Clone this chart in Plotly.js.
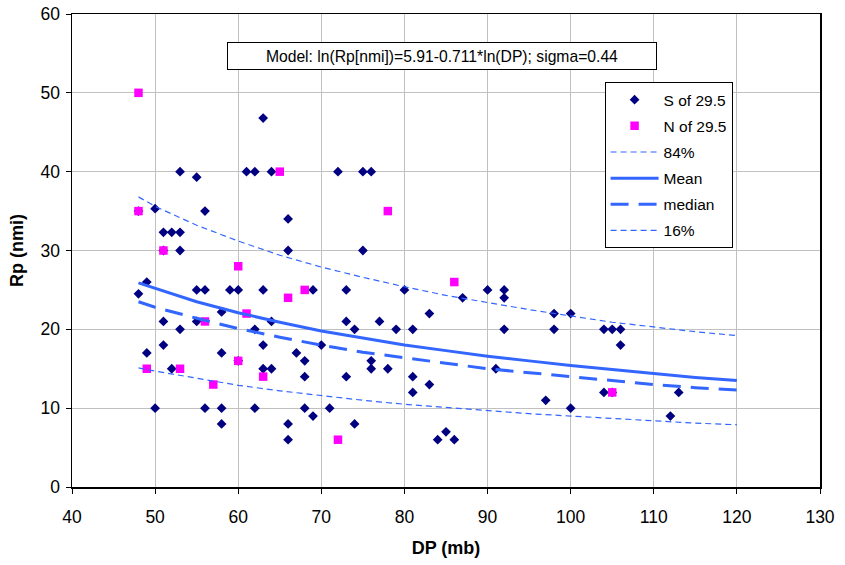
<!DOCTYPE html>
<html>
<head>
<meta charset="utf-8">
<script src="https://cdn.plot.ly/plotly-3.0.1.min.js"></script>
<style>html,body{margin:0;padding:0;background:#fff;}#chart{width:845px;height:565px;}</style>
</head>
<body>
<div id="chart"></div>
<script>
// Scatter data: S of 29.5
var sDP = [48,48,49,49,50,50,51,51,51,51,52,52,53,53,53,53,55,55,55,56,56,56,58,58,58,58,59,60,60,61,62,62,62,63,63,63,63,64,64,64,66,66,66,66,67,
           68,68,68,69,69,70,71,72,73,73,73,74,74,75,75,76,76,76,77,78,79,80,81,81,81,83,83,84,85,86,87,90,91,
           92,92,92,97,98,98,100,100,104,104,105,105,106,106,112,113];
var sRp = [24.5,35,26,17,35.3,10,32.3,30,21,18,32.3,15,40,32.3,30,20,39.3,25,21,35,25,10,22.2,17,10,8,25,25,16,40,40,20,10,46.8,25,18,15,40,21,15,34,30,8,6,17,
           16,14,10,25,9,18,10,40,25,21,14,20,8,40,30,40,16,15,21,15,20,25,20,14,12,22,13,6,7,6,24,25,15,
           25,24,20,11,22,20,22,10,20,12,20,12,20,18,9,12];
// Scatter data: N of 29.5
var nDP = [48,48,49,51,53,56,57,60,60,61,63,65,66,68,72,78,86,105];
var nRp = [50,35,15,30,15,21,13,28,16,22,14,40,24,25,6,35,26,12];
// Model curves
var lineDP   = [48,50,55,60,65,70,75,80,85,90,95,100,105,110,115,120];
var p84Rp    = [36.8,35.6,33.2,31.2,29.4,27.9,26.6,25.4,24.3,23.4,22.5,21.7,20.9,20.3,19.7,19.2];
var meanRp   = [25.9,25.2,23.5,22.1,20.9,19.8,18.9,18.0,17.3,16.6,16.0,15.4,14.9,14.4,13.9,13.5];
var medianRp = [23.5,22.8,21.4,20.1,19.0,18.0,17.1,16.4,15.7,15.0,14.5,14.0,13.5,13.0,12.6,12.3];
var p16Rp    = [15.1,14.7,13.8,12.9,12.2,11.6,11.0,10.5,10.1,9.7,9.3,9.0,8.7,8.4,8.1,7.9];
var xTicks = [40,50,60,70,80,90,100,110,120,130];
var yTicks = [0,10,20,30,40,50,60];

var FONT = 'Liberation Sans, Arial, sans-serif';
var LINEC = '#3366FF';

var traces = [
  {x:sDP, y:sRp, type:'scatter', mode:'markers', name:'S of 29.5', legendgroup:'a',
   marker:{symbol:'diamond', size:7.5, color:'#000080'}},
  {x:nDP, y:nRp, type:'scatter', mode:'markers', name:'N of 29.5', legendgroup:'b',
   marker:{symbol:'square', size:8.5, color:'#FF00FF'}},
  {x:lineDP, y:p84Rp, type:'scatter', mode:'lines', name:'84%', legendgroup:'c',
   line:{color:LINEC, width:1.2, dash:'6px,4px'}},
  {x:lineDP, y:meanRp, type:'scatter', mode:'lines', name:'Mean', legendgroup:'d',
   line:{color:LINEC, width:3}},
  {x:lineDP, y:medianRp, type:'scatter', mode:'lines', name:'median', legendgroup:'e',
   line:{color:LINEC, width:3, dash:'18px,10px'}},
  {x:lineDP, y:p16Rp, type:'scatter', mode:'lines', name:'16%', legendgroup:'f',
   line:{color:LINEC, width:1.2, dash:'6px,4px'}}
];

var layout = {
  width:845, height:565,
  margin:{l:72, r:25, t:14, b:78},
  paper_bgcolor:'#fff', plot_bgcolor:'#fff',
  font:{family:FONT, color:'#000', size:16},
  showlegend:true,
  legend:{x:0.712, y:0.856, xanchor:'left', yanchor:'top', bgcolor:'#fff',
          bordercolor:'#000', borderwidth:1, font:{size:15.5, family:FONT},
          tracegroupgap:3, itemwidth:48},
  xaxis:{range:[40,130], tickvals:xTicks, ticktext:xTicks.map(String), showgrid:true, gridcolor:'#c0c0c0', gridwidth:1,
         zeroline:false, showline:true, linecolor:'#000', linewidth:1.5, mirror:true,
         ticks:'outside', ticklen:5, tickcolor:'#000', tickfont:{size:17.5}, ticklabelstandoff:8,
         title:{text:'<b>DP (mb)</b>', font:{size:18}, standoff:16}},
  yaxis:{range:[0,60], tickvals:yTicks, ticktext:yTicks.map(String), showgrid:true, gridcolor:'#c0c0c0', gridwidth:1,
         zeroline:false, showline:true, linecolor:'#000', linewidth:1.5, mirror:true,
         ticks:'outside', ticklen:5, tickcolor:'#000', tickfont:{size:17.5}, ticklabelstandoff:2,
         title:{text:'<b>Rp (nmi)</b>', font:{size:18}, standoff:12}},
  annotations:[{
    xref:'paper', yref:'paper', x:0.4947, y:0.912, xanchor:'center', yanchor:'middle',
    text:'Model: ln(Rp[nmi])=5.91-0.711*ln(DP); sigma=0.44', showarrow:false,
    font:{size:15.7, family:FONT}, bgcolor:'#fff', bordercolor:'#000', borderwidth:1,
    width:424, height:22, borderpad:2
  }]
};

Plotly.newPlot('chart', traces, layout, {displayModeBar:false, staticPlot:true});
</script>
</body>
</html>
